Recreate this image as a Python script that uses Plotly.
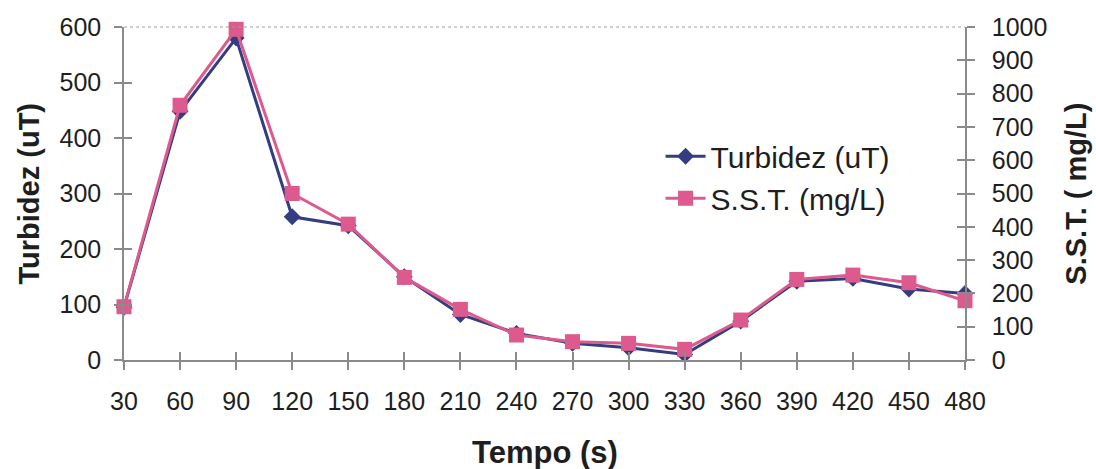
import plotly.graph_objects as go

tempo = [30, 60, 90, 120, 150, 180, 210, 240, 270, 300, 330, 360, 390, 420, 450, 480]
turbidez = [95, 448, 580, 258, 242, 150, 82, 48, 30, 22, 10, 70, 142, 147, 128, 120]
sst = [160, 765, 993, 500, 408, 248, 152, 75, 55, 50, 32, 120, 242, 255, 232, 178]
x_ticks = tempo
y_left_ticks = [0, 100, 200, 300, 400, 500, 600]
y_right_ticks = [0, 100, 200, 300, 400, 500, 600, 700, 800, 900, 1000]

FONT = "Liberation Sans, Arial, sans-serif"
TXT = "#1e1e1e"
AX = "#8a8a8a"
BLUE = "#343c82"
PINK = "#dc5a8e"

fig = go.Figure()
fig.add_trace(go.Scatter(
    x=tempo, y=turbidez, name="Turbidez (uT)", mode="lines+markers",
    line=dict(color=BLUE, width=3),
    marker=dict(symbol="diamond", size=13, color=BLUE),
    cliponaxis=False, yaxis="y"))
fig.add_trace(go.Scatter(
    x=tempo, y=sst, name="S.S.T. (mg/L)", mode="lines+markers",
    line=dict(color=PINK, width=3),
    marker=dict(symbol="square", size=15, color=PINK),
    cliponaxis=False, yaxis="y2"))
# empty helper traces so that the inner-tick overlay axes are drawn
fig.add_trace(go.Scatter(x=[], y=[], xaxis="x3", yaxis="y3", showlegend=False, hoverinfo="skip"))
fig.add_trace(go.Scatter(x=[], y=[], xaxis="x", yaxis="y4", showlegend=False, hoverinfo="skip"))

common_tick = dict(tickfont=dict(family=FONT, size=25, color=TXT),
                   showgrid=False, zeroline=False, linecolor=AX, linewidth=1.5,
                   tickcolor=AX, tickwidth=1.5, ticklen=8)

fig.update_layout(
    width=1096, height=469,
    margin=dict(l=124, r=131, t=27, b=109),
    paper_bgcolor="white", plot_bgcolor="white",
    font=dict(family=FONT, color=TXT),
    showlegend=True,
    legend=dict(x=0.638, y=0.69, xanchor="left", yanchor="top",
                font=dict(family=FONT, size=30, color=TXT),
                bgcolor="rgba(0,0,0,0)", tracegroupgap=0, itemwidth=40),
    xaxis=dict(range=[30, 480], tickmode="array", tickvals=x_ticks,
               ticks="outside", showline=True, ticklabelstandoff=10,
               anchor="y", **common_tick),
    xaxis3=dict(range=[30, 480], tickmode="array", tickvals=x_ticks,
                ticks="inside", showline=False, showticklabels=False,
                overlaying="x", anchor="y3", side="bottom", **common_tick),
    yaxis=dict(range=[0, 600], tickmode="array", tickvals=y_left_ticks,
               ticks="outside", showline=True, ticklabelstandoff=8,
               anchor="x", **common_tick),
    yaxis3=dict(range=[0, 600], tickmode="array", tickvals=y_left_ticks,
                ticks="inside", showline=False, showticklabels=False,
                overlaying="y", anchor="x3", side="left", **common_tick),
    yaxis2=dict(range=[0, 1000], tickmode="array", tickvals=y_right_ticks,
                ticks="outside", showline=True, ticklabelstandoff=12,
                overlaying="y", side="right", anchor="x", **common_tick),
    yaxis4=dict(range=[0, 1000], tickmode="array", tickvals=y_right_ticks,
                ticks="inside", showline=False, showticklabels=False,
                overlaying="y", side="right", anchor="x", **common_tick),
)

fig.add_shape(type="line", xref="paper", yref="paper", x0=0, x1=1, y0=1, y1=1,
              line=dict(color="#a0a0a0", width=1.2, dash="dot"))

fig.add_annotation(text="<b>Turbidez (uT)</b>", xref="paper", yref="paper",
                   x=-0.113, y=0.5, textangle=-90, showarrow=False,
                   xanchor="center", yanchor="middle",
                   font=dict(family=FONT, size=29, color=TXT))
fig.add_annotation(text="<b>S.S.T. ( mg/L)</b>", xref="paper", yref="paper",
                   x=1.131, y=0.5, textangle=-90, showarrow=False,
                   xanchor="center", yanchor="middle",
                   font=dict(family=FONT, size=29, color=TXT))
fig.add_annotation(text="<b>Tempo (s)</b>", xref="paper", yref="paper",
                   x=0.5, y=-0.279, showarrow=False,
                   xanchor="center", yanchor="middle",
                   font=dict(family=FONT, size=31, color=TXT))

fig.write_html("out.html")
